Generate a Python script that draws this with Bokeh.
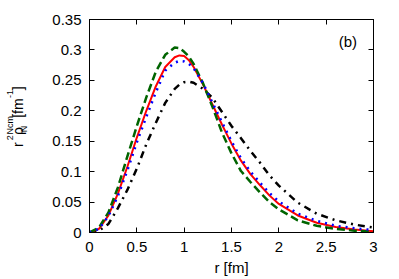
import numpy as np
from bokeh.plotting import figure
from bokeh.layouts import row
from bokeh.models import Range1d, FixedTicker, LinearAxis, Label
from bokeh.core.properties import value
from bokeh.embed import file_html
from bokeh.resources import INLINE

# ---- data ----
r = [0, 0.1, 0.2, 0.3, 0.4, 0.5, 0.6, 0.7, 0.8, 0.9, 0.95, 1.0, 1.05, 1.1, 1.2, 1.3,
     1.4, 1.5, 1.6, 1.7, 1.8, 1.9, 2.0, 2.2, 2.4, 2.6, 2.8, 3.0]
red_solid = [0, 0.006, 0.028, 0.064, 0.108, 0.156, 0.2, 0.24, 0.272, 0.288, 0.291, 0.29, 0.283,
             0.272, 0.243, 0.21, 0.177, 0.146, 0.118, 0.096, 0.078, 0.061, 0.047, 0.028,
             0.016, 0.009, 0.005, 0.002]
green_dashed = [0, 0.008, 0.033, 0.074, 0.125, 0.175, 0.222, 0.264, 0.292, 0.304, 0.303, 0.297,
                0.289, 0.277, 0.245, 0.206, 0.164, 0.13, 0.101, 0.083, 0.066, 0.05, 0.038,
                0.02, 0.011, 0.006, 0.003, 0.001]
blue_dotted = [0, 0.006, 0.027, 0.06, 0.102, 0.148, 0.19, 0.23, 0.266, 0.279, 0.282, 0.281,
               0.277, 0.27, 0.245, 0.213, 0.181, 0.15, 0.122, 0.1, 0.082, 0.065, 0.051,
               0.031, 0.019, 0.011, 0.007, 0.004]
black_dashdot = [0, 0.003, 0.014, 0.04, 0.07, 0.105, 0.145, 0.18, 0.213, 0.236, 0.243, 0.247,
                 0.248, 0.246, 0.236, 0.221, 0.198, 0.175, 0.155, 0.134, 0.115, 0.094, 0.077,
                 0.049, 0.031, 0.02, 0.013, 0.008]

x_ticks = [0, 0.5, 1, 1.5, 2, 2.5, 3]
x_tick_labels = ["0", "0.5", "1", "1.5", "2", "2.5", "3"]
y_ticks = [0, 0.05, 0.1, 0.15, 0.2, 0.25, 0.3, 0.35]
y_tick_labels = ["0", "0.05", "0.1", "0.15", "0.2", "0.25", "0.3", "0.35"]

FONT = "Liberation Sans"
H = 279
LW = 30  # width of the strip that carries the rotated y-axis title

bottom = LinearAxis()
left = LinearAxis()
top = LinearAxis()
right = LinearAxis()

p = figure(frame_width=284, frame_height=213, output_backend="svg", toolbar_location=None,
           x_range=Range1d(0, 3), y_range=Range1d(0, 0.35),
           x_axis_location=None, y_axis_location=None,
           min_border_left=89 - LW, min_border_top=19, min_border_right=24,
           min_border_bottom=H - 19 - 213)
p.add_layout(bottom, "below")
p.add_layout(left, "left")
p.add_layout(top, "above")
p.add_layout(right, "right")
p.xgrid.visible = False
p.ygrid.visible = False
p.outline_line_color = "black"
p.outline_line_width = 1
p.background_fill_color = "white"
p.border_fill_color = "white"

def style_axis(ax, ticks, labels, show_labels):
    ax.ticker = FixedTicker(ticks=ticks)
    if show_labels:
        ax.major_label_overrides = {t: l for t, l in zip(ticks, labels)}
    else:
        ax.major_label_overrides = {t: "" for t in ticks}
    ax.major_tick_in = 5
    ax.major_tick_out = 0
    ax.minor_tick_line_color = None
    ax.axis_line_color = "black"
    ax.major_tick_line_color = "black"
    ax.major_label_text_font = FONT
    ax.major_label_text_font_size = "15px"
    ax.major_label_text_color = "black"
    ax.major_label_standoff = 9 if show_labels else 0

style_axis(bottom, x_ticks, x_tick_labels, True)
style_axis(left, y_ticks, y_tick_labels, True)
left.major_label_standoff = 8
style_axis(top, x_ticks, x_tick_labels, False)
style_axis(right, y_ticks, y_tick_labels, False)

bottom.axis_label = "r [fm]"
bottom.axis_label_text_font = FONT
bottom.axis_label_text_font_size = "15px"
bottom.axis_label_text_font_style = "normal"
bottom.axis_label_text_color = "black"
bottom.axis_label_standoff = 4

# curves
p.line(r, black_dashdot, line_color="black", line_width=2.5, line_dash="7 5 2 5")
p.line(r, red_solid, line_color="#ff0000", line_width=2)
p.line(r, green_dashed, line_color="#006400", line_width=2.5, line_dash="8 4")
p.line(r, blue_dotted, line_color="#0000ff", line_width=2.5, line_dash="2 5")

p.add_layout(Label(x=2.73, y=0.314, text="(b)", text_font=FONT, text_font_size="15px",
                   text_color="black", text_align="center", text_baseline="middle"))

# narrow strip holding the rotated y-axis title r^2 rho_N^Ncm [fm^-1]
q = figure(width=LW, height=H, output_backend="svg", toolbar_location=None,
           x_range=Range1d(0, LW), y_range=Range1d(H, 0),
           x_axis_location=None, y_axis_location=None,
           min_border=0, outline_line_color=None)
q.xgrid.visible = False
q.ygrid.visible = False
q.border_fill_color = "white"
q.background_fill_color = "white"

main_parts = [("r", 17, 164), ("ρ", 17, 146), ("[fm", 17, 116), ("]", 17, 90)]
small_parts = [("2", 9, 155), ("N", 23.5, 143.5), ("Ncm", 9, 138.5), ("-1", 9, 97.5)]
for parts, fs in ((main_parts, "14px"), (small_parts, "9px")):
    q.text(x=[t[1] for t in parts], y=[t[2] for t in parts], text=[t[0] for t in parts],
           angle=np.pi / 2, text_font=value(FONT), text_font_size=fs,
           text_color="black", text_align="center", text_baseline="middle")

layout = row(q, p)
open("out.html", "w").write(file_html(layout, INLINE))
